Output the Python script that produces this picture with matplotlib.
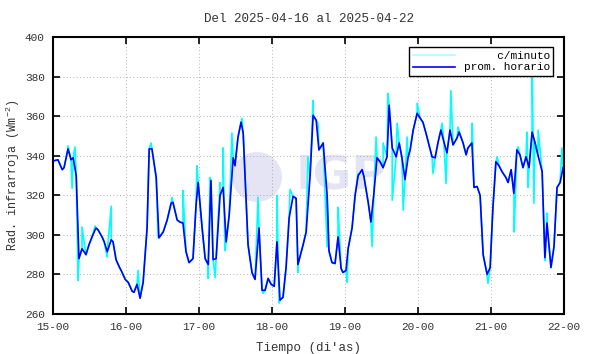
import numpy as np
import matplotlib
matplotlib.use('Agg')
import matplotlib.pyplot as plt
from matplotlib.patches import Ellipse

plt.rcParams['font.family'] = ['Liberation Mono', 'DejaVu Sans Mono']
plt.rcParams['mathtext.fontset'] = 'custom'
plt.rcParams['mathtext.rm'] = 'Liberation Mono'
plt.rcParams['mathtext.it'] = 'Liberation Mono'

# promedio horario (horas desde 15-00, W/m2)
horas = [0.3, 1.6, 3.0, 3.6, 4.9, 5.9, 6.6, 7.6, 8.5, 9.5, 10.8, 11.8, 12.8, 14.1, 14.8,
         16.1, 16.8, 17.8, 19.1, 19.7, 20.7, 21.7, 22.7, 23.7, 24.7, 26.0, 26.6, 27.6,
         28.6, 29.6, 30.9, 31.6, 32.5, 33.9, 34.8, 36.2, 37.5, 38.8, 39.4, 40.8, 41.7,
         42.7, 43.7, 44.7, 46.0, 47.0, 47.7, 49.0, 50.0, 51.0, 51.9, 52.6, 53.6, 54.9,
         55.9, 56.9, 57.9, 59.2, 59.8, 60.8, 61.8, 62.5, 64.1, 65.4, 66.4, 67.7, 68.7,
         69.7, 70.7, 71.7, 72.7, 73.6, 74.6, 75.6, 76.6, 77.6, 78.9, 79.9, 80.5, 82.2,
         83.2, 84.5, 85.5, 86.5, 87.4, 88.8, 90.1, 90.7, 91.7, 92.7, 93.7, 94.7, 95.3,
         96.3, 97.0, 98.3, 99.3, 100.3, 101.6, 102.2, 103.6, 104.5, 105.5, 106.5, 107.5,
         108.5, 109.8, 110.5, 111.5, 112.8, 113.8, 114.7, 115.7, 116.7, 117.4, 118.4,
         119.7, 120.7, 121.6, 122.6, 123.6, 124.6, 125.6, 126.6, 127.5, 128.5, 129.5,
         130.5, 131.5, 132.8, 133.5, 134.8, 135.8, 136.4, 137.7, 138.4, 139.4, 140.4,
         141.4, 142.7, 143.7, 144.6, 145.6, 146.6, 147.6, 148.9, 149.6, 150.6, 151.5,
         152.5, 153.5, 154.5, 155.5, 156.5, 157.5, 158.4, 159.4, 160.8, 161.7, 162.4,
         163.7, 164.7, 165.7, 166.7, 167.7]
prom = [337.5, 338, 333, 334, 343.5, 338, 339, 330, 288, 293, 290, 295, 299, 303.5, 302.5,
        299, 296.5, 291.5, 297.5, 296.5, 287.5, 284, 281, 277.5, 276, 271.5, 271, 275,
        268, 276, 303.5, 343.5, 343.5, 329, 298.5, 301.5, 307.5, 316, 316.5, 307.5, 306.5,
        306, 291.5, 286, 288, 315, 326.5, 303.5, 288, 285, 327.5, 287.5, 288, 320,
        324, 296.5, 310, 339, 335, 349.5, 357, 351.5, 295, 281, 277.5, 303.5, 272,
        272, 278, 275, 274, 296.5, 267, 268.5, 283.5, 308.5, 319.5, 318.5, 285, 295,
        301.5, 330, 360.5, 358, 343, 346.5, 320, 292, 286, 285.5, 299, 283, 281,
        282, 293, 303.5, 320, 330, 333, 329.5, 316.5, 306.5, 321.5, 339, 337,
        334, 339.5, 365.5, 344, 339.5, 346.5, 339, 328, 339, 343, 353,
        361.5, 359, 357, 351.5, 345.5, 339.5, 339, 347, 353, 347, 341.5,
        353, 345.5, 349, 352, 346.5, 340.5, 344, 346.5, 324, 324.5, 320,
        290, 280, 283.5, 313.5, 337, 335, 332, 329, 326.5, 333, 321,
        343, 340.5, 334, 339.5, 334, 352, 347, 340.5, 332, 288.5, 306,
        283.5, 294, 324, 326.5, 334]

# picos visibles en los datos por minuto
picos_h = [4.9, 6.25, 7.2, 8.2, 9.5, 13.8, 17.75, 19.1, 27.95, 32.2, 34.5, 39.1, 42.7,
           47.3, 51.0, 51.6, 53.3, 54.9, 55.9, 56.5, 58.8, 62.1, 67.4, 69.0, 73.6, 74.3,
           77.9, 80.5, 83.8, 85.5, 87.1, 90.1, 93.7, 96.7, 100.3, 104.9, 106.2, 108.5,
           110.1, 111.5, 113.1, 115.1, 116.4, 119.7, 124.9, 127.9, 129.2, 130.8, 133.2,
           137.8, 143.0, 146.0, 151.6, 152.9, 155.8, 156.2, 157.5, 158.1, 159.5, 161.8,
           162.4, 167.3, 168.0]
picos_v = [345, 323.5, 344.5, 277, 304, 304.5, 289, 314.5, 282, 346.5, 299, 319, 322.5,
           335, 278, 329, 278.5, 326.5, 344, 292, 351.5, 359, 319, 270.5, 320, 265.5,
           323, 281, 339.5, 368, 356.5, 294, 314, 276, 331, 294, 349.5, 346.5,
           371.5, 317.5, 356.5, 312.5, 349.5, 366.5, 331, 356.5, 326, 373, 354.5,
           356.5, 275.5, 339.5, 301.5, 344.5, 352, 324, 387.5, 316, 353, 287,
           311, 344, 332]

dias = ['15-00', '16-00', '17-00', '18-00', '19-00', '20-00', '21-00', '22-00']

t_min = np.concatenate([horas, picos_h])
v_min = np.concatenate([prom, picos_v])
orden = np.argsort(t_min)

txt = '#333333'

fig = plt.figure(figsize=(5.9, 3.54), dpi=100)
ax = fig.add_axes([0.09, 0.113, 0.866, 0.782])

# marca de agua IGP
ax.add_patch(Ellipse((0.399, 0.495), 0.098, 0.18, transform=ax.transAxes,
                     color='#e4e4f5', zorder=0, ec='none'))
ax.text(0.475, 0.495, 'IGP', transform=ax.transAxes, fontsize=34, fontweight='bold',
        family='DejaVu Sans', color='#e4e4f5', va='center', ha='left', zorder=0)

ax.plot(t_min[orden], v_min[orden], color='#00ffff', lw=1.2, label='     c/minuto', zorder=2)
ax.plot(horas, prom, color='#0000ff', lw=1.2, label='prom. horario', zorder=3)

ax.set_xlim(0, 168)
ax.set_ylim(260, 400)
ax.set_xticks(np.arange(0, 169, 24))
ax.set_xticklabels(dias)
ax.set_yticks(np.arange(260, 401, 20))
ax.tick_params(direction='in', length=5, width=1.2, top=True, right=True,
               labelsize=8, pad=6, colors='black', labelcolor=txt)
for s in ax.spines.values():
    s.set_linewidth(1.5)
ax.grid(True, linestyle=(0, (1, 3)), color='#999999', lw=0.6)

ax.set_title('Del 2025-04-16 al 2025-04-22', fontsize=9, color=txt, pad=11)
ax.set_xlabel("Tiempo (di'as)", fontsize=9, color=txt, labelpad=7)
ax.set_ylabel('Rad. infrarroja (Wm$^{-2}$)', fontsize=8.5, color=txt, labelpad=2)

leg = ax.legend(loc='upper right', fontsize=8, fancybox=False, framealpha=1,
                edgecolor='black', handlelength=3.8, borderpad=0.3, labelspacing=0.15,
                handletextpad=0.8, bbox_to_anchor=(0.99, 0.983))
leg.get_frame().set_linewidth(1.0)
leg.get_lines()[0].set_color('#aaffff')

fig.savefig('out.png', dpi=100)
